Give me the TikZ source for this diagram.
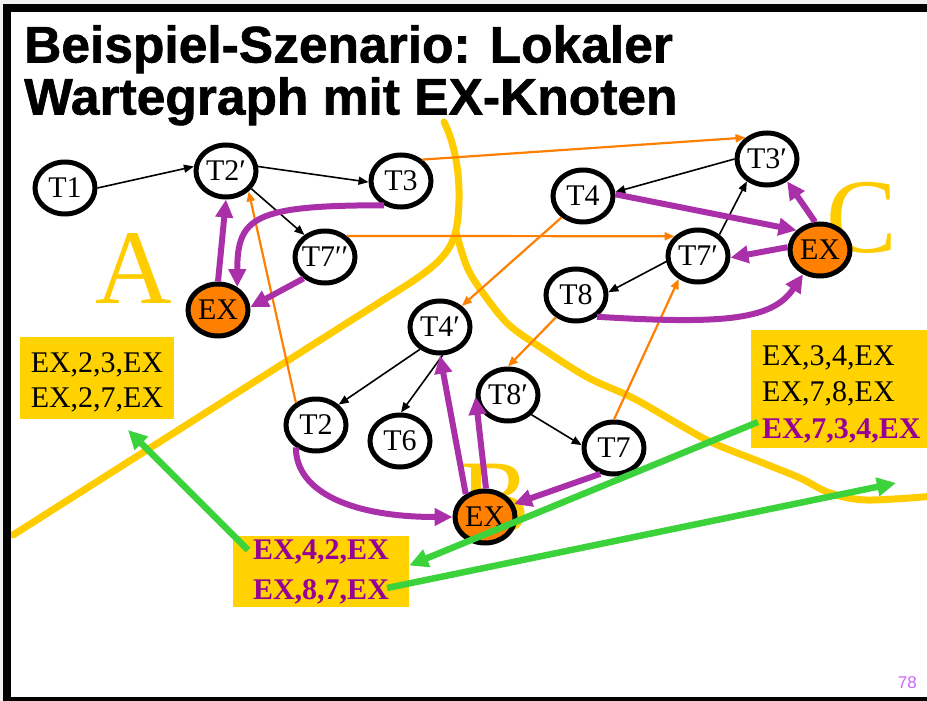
\documentclass[tikz,border=0pt]{standalone}
\usepackage{fontspec}
\setmainfont{Liberation Serif}
\newfontfamily\titlefont{Liberation Sans}[BoldFeatures={FakeBold=1.2}]
\newfontfamily\pagefont{Liberation Sans}
\usetikzlibrary{shapes.geometric,arrows.meta}

\definecolor{slidegray}{RGB}{240,240,240}
\definecolor{zoneyellow}{RGB}{255,204,0}
\definecolor{boxyellow}{RGB}{255,210,0}
\definecolor{exorange}{RGB}{255,128,0}
\definecolor{waitpurple}{RGB}{170,48,170}
\definecolor{pathpurple}{RGB}{150,0,150}
\definecolor{msggreen}{RGB}{60,210,60}
\definecolor{pagelilac}{RGB}{204,102,255}

\newcommand{\boxstrut}{\rule{0pt}{29.5pt}}

\begin{document}
\begin{tikzpicture}[
        x=1pt, y=-1pt,
        >={Triangle[length=10pt,width=8pt]},
        tnode/.style={ellipse, draw, line width=5pt, fill=white, minimum width=60pt, minimum height=52pt, inner xsep=-8pt, inner ysep=0pt, font=\fontsize{30}{30}\selectfont},
        exnode/.style={tnode, fill=exorange},
        zone/.style={draw=zoneyellow, line width=7pt, line cap=round},
        zoneletter/.style={text=zoneyellow, font=\fontsize{106}{106}\selectfont, inner sep=0pt, anchor=base},
        pathbox/.style={fill=boxyellow, inner sep=0pt, align=left, font=\fontsize{30}{35}\selectfont},
        blackarrow/.style={->, line width=1.6pt},
        orangearrow/.style={->, draw=exorange, line width=2.2pt},
        waitarrow/.style={-{Triangle[length=18pt,width=17pt]}, draw=waitpurple, line width=6pt},
        msgarrow/.style={-{Triangle[length=19pt,width=18pt]}, draw=msggreen, line width=6.5pt}
    ]

    % ==========================================
    % 0. Slide background and title
    % ==========================================
    \clip (0,0) rectangle (927,701);
    \fill[slidegray] (0,0) rectangle (927,701);
    \fill[white] (3,4) rectangle (927,701);

    \node[anchor=north west, inner sep=0pt, align=left, font=\titlefont\bfseries\fontsize{51.5}{52}\selectfont] (title) at (24,25) {Beispiel-Szenario: Lokaler\\Wartegraph mit EX-Knoten};

    % ==========================================
    % 1. Sites A, B, C (yellow borders)
    % ==========================================
    \draw[zone] (13,535) -- (410,283) .. controls (440,263) and (453,250) .. (457,225) .. controls (462,190) and (458,150) .. (444,122);
    \draw[zone] plot[smooth, tension=0.55] coordinates {(456,232) (467,267) (483,293) (508,324) (540,347) (587,377) (633,398) (680,425) (713,443) (763,463) (800,478) (830,493) (867,500) (935,496)};

    \node[zoneletter] (zonea) at (134,303) {A};
    \node[zoneletter] (zoneb) at (495,533) {B};
    \node[zoneletter] (zonec) at (862,252) {C};

    % ==========================================
    % 2. Path messages
    % ==========================================
    \node[pathbox, minimum width=154pt, minimum height=82pt] (boxa) at (97,378) {\boxstrut EX,2,3,EX\\EX,2,7,EX};
    \node[pathbox, minimum width=176pt, minimum height=71pt, text=pathpurple, font=\bfseries\fontsize{30}{40}\selectfont] (boxb) at (321,571.5) {EX,4,2,EX\\EX,8,7,EX};
    \node[pathbox, anchor=north west, text width=160pt, inner xsep=11pt, minimum height=118pt, font=\fontsize{30}{36.5}\selectfont] (boxc) at (751,330) {\boxstrut EX,3,4,EX\\EX,7,8,EX\\{\bfseries\color{pathpurple}EX,7,3,4,EX}};

    % ==========================================
    % 3. Transactions
    % ==========================================
    % Site A
    \node[tnode] (t1) at (65,188) {T1};
    \node[tnode] (t2p) at (226,171) {T2′};
    \node[tnode] (t3) at (401,181) {T3};
    \node[tnode] (t7pp) at (325,257) {T7′′};
    \node[exnode] (exa) at (218,310) {EX};

    % Site C
    \node[tnode] (t4) at (583,196) {T4};
    \node[tnode] (t3p) at (767,159) {T3′};
    \node[tnode] (t7p) at (698,256) {T7′};
    \node[tnode] (t8) at (576,295) {T8};
    \node[exnode] (exc) at (820,250) {EX};

    % Site B
    \node[tnode] (t4p) at (440,327) {T4′};
    \node[tnode] (t2) at (316,425) {T2};
    \node[tnode] (t6) at (400,441) {T6};
    \node[tnode] (t8p) at (508,395) {T8′};
    \node[tnode] (t7) at (614,448) {T7};
    \node[exnode] (exb) at (485,517) {EX};

    % lokale Wartekanten
    \foreach \a/\b in {t1.east/t2p.172, t2p.8/t3.182, t2p.325/t7pp.133, t3p.west/t4.7, t7p.45/t3p.228, t7p.190/t8.5, t4p.228/t2.42, t4p.275/t6.88, t8p.320/t7.175} {
        \draw[blackarrow] (\a) -- (\b);
    }

    % Kanten zwischen den Knoten
    \foreach \a/\b in {t3.45/t3p.135, t7pp.44/t7p.140, t4.225/t4p.44, t2.132/t2p.318, t8.228/t8p.north, t7.north/t7p.230} {
        \draw[orangearrow] (\a) -- (\b);
    }

    % EX-Kanten
    \foreach \a/\b in {exa.north/t2p.south, t7pp.225/exa.5, t4.3/exc.140, exc.100/t3p.312, exc.175/t7p.357, exb.130/t4p.south, exb.88/t8p.183, t7.242/exb.24} {
        \draw[waitarrow] (\a) -- (\b);
    }
    \draw[waitarrow] (t3.235) .. controls +(-130,0) and +(0,-70) .. (exa.50);
    \draw[waitarrow] (t8.314) .. controls +(130,8) and +(-30,45) .. (exc.235);
    \draw[waitarrow] (t2.228) .. controls +(0,45) and +(-100,0) .. (exb.west);

    % ==========================================
    % 4. Message flow
    % ==========================================
    \coordinate (msgstarta) at (248,550);
    \coordinate (msgenda) at (128,430);
    \coordinate (msgstartb) at (387,588);
    \coordinate (msgendb) at (896,483);
    \coordinate (msgstartc) at (758,422);
    \draw[msgarrow] (msgstarta) -- (msgenda);
    \draw[msgarrow] (msgstartc) -- ([yshift=6pt]boxb.east);
    \draw[msgarrow] (msgstartb) -- (msgendb);

    % frame and page number
    \draw[line width=8pt] (7,8) rectangle (950,701);
    \node[anchor=base east, inner sep=0pt, text=pagelilac, font=\pagefont\fontsize{17}{17}\selectfont] (pagenum) at (917,688) {78};

\end{tikzpicture}
\end{document}
